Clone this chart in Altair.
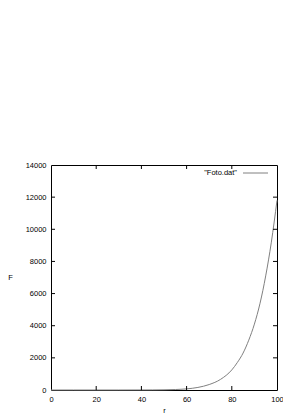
import altair as alt
import pandas as pd

r_vals = [0, 10, 20, 30, 40, 45, 50, 55, 60, 65, 70, 75, 80, 82.5, 85, 87.5, 90, 92.5, 95, 97.5, 100]
f_vals = [0, 0, 0, 0, 2, 4, 12, 30, 70, 160, 340, 660, 1250, 1720, 2300, 3100, 4100, 5400, 7100, 9200, 11800]
x_ticks = [0, 20, 40, 60, 80, 100]
y_ticks = [0, 2000, 4000, 6000, 8000, 10000, 12000, 14000]
legend_label = '"Foto.dat"'

W, H = 226, 225
FONT = "Liberation Sans"
FS = 7.5

df = pd.DataFrame({"r": r_vals, "F": f_vals})
xt = pd.DataFrame({"v": x_ticks[1:-1]})
yt = pd.DataFrame({"v": y_ticks[1:-1]})

xs = alt.Scale(domain=[0, 100], nice=False)
ys = alt.Scale(domain=[0, 14000], nice=False)

xaxis = alt.Axis(values=x_ticks, format="d", title="r", titleAngle=0,
                 titleX=W / 2, titleY=20, titleBaseline="middle", titleAlign="center",
                 labelPadding=5, labelOverlap=False, labelFlush=False)
yaxis = alt.Axis(values=y_ticks, format="d", title="F", titleAngle=0,
                 titleX=-41, titleY=H / 2, titleBaseline="middle", titleAlign="center",
                 labelPadding=5, labelOverlap=False, labelFlush=False)

line = alt.Chart(df).mark_line(color="#808080", strokeWidth=1, interpolate="monotone").encode(
    x=alt.X("r:Q", scale=xs, axis=xaxis),
    y=alt.Y("F:Q", scale=ys, axis=yaxis),
)

tick_len = 4
bx = alt.Chart(xt).mark_rule(color="black", strokeWidth=1).encode(
    x=alt.X("v:Q", scale=xs, axis=xaxis), y=alt.value(H), y2=alt.value(H - tick_len))
tx = alt.Chart(xt).mark_rule(color="black", strokeWidth=1).encode(
    x=alt.X("v:Q", scale=xs, axis=xaxis), y=alt.value(0), y2=alt.value(tick_len))
ly = alt.Chart(yt).mark_rule(color="black", strokeWidth=1).encode(
    y=alt.Y("v:Q", scale=ys, axis=yaxis), x=alt.value(0), x2=alt.value(tick_len))
ry = alt.Chart(yt).mark_rule(color="black", strokeWidth=1).encode(
    y=alt.Y("v:Q", scale=ys, axis=yaxis), x=alt.value(W), x2=alt.value(W - tick_len))

leg_df = pd.DataFrame({"label": [legend_label]})
leg_text = alt.Chart(leg_df).mark_text(font=FONT, fontSize=FS, align="right", baseline="middle",
                                       color="black").encode(
    text="label:N", x=alt.value(186), y=alt.value(8))
leg_line = alt.Chart(leg_df).mark_rule(color="#808080", strokeWidth=1).encode(
    x=alt.value(192), x2=alt.value(217), y=alt.value(8))

chart = alt.layer(line, bx, tx, ly, ry, leg_line, leg_text).properties(
    width=W, height=H,
    autosize=alt.AutoSizeParams(type="none"),
    padding={"left": 43, "top": 157, "right": 6, "bottom": 24},
).configure_view(stroke="black", strokeWidth=1).configure_axis(
    domain=False, grid=False, ticks=False, labelFont=FONT, titleFont=FONT,
    labelFontSize=FS, titleFontSize=FS, labelColor="black", titleColor="black",
    titleFontWeight="normal", labelOverlap=False,
)

chart.save("out.html", embed_options={"renderer": "svg", "actions": False})
